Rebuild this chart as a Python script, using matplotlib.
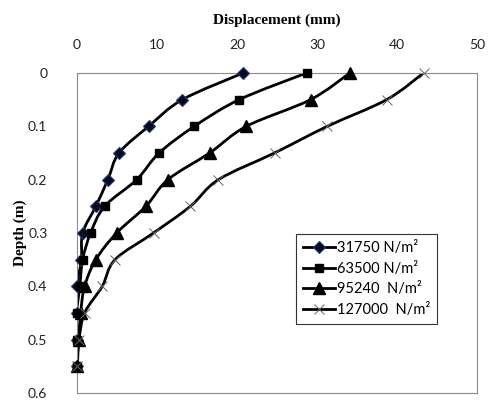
""" Lateral displacement vs depth profiles"""
import matplotlib.pyplot as plt
from matplotlib.path import Path
from matplotlib.patches import PathPatch

# Data
depth = [0, 0.05, 0.1, 0.15, 0.2, 0.25, 0.3, 0.35, 0.4, 0.45, 0.5, 0.55]
disp_31750 = [20.8, 13.2, 9.0, 5.3, 3.9, 2.4, 0.75, 0.6, 0.0, 0.0, 0.0, 0.0]
disp_63500 = [28.7, 20.3, 14.7, 10.3, 7.5, 3.5, 1.75, 0.75, 0.4, 0.0, 0.0, 0.0]
disp_95240 = [34.1, 29.2, 21.2, 16.6, 11.4, 8.65, 5.0, 2.4, 1.0, 0.5, 0.25, 0.1]
disp_127000 = [43.3, 38.7, 31.3, 24.7, 17.7, 14.2, 9.6, 4.8, 3.2, 1.0, 0.3, 0.0]

labels = ["31750 N/m²", "63500 N/m²", "95240  N/m²", "127000  N/m²"]
x_ticks = [0, 10, 20, 30, 40, 50]
y_ticks = [0, 0.1, 0.2, 0.3, 0.4, 0.5, 0.6]


def smooth_path(xs, ys, k=1 / 6):
    # cubic bezier through every point, tangents from neighbours
    verts = [(xs[0], ys[0])]
    codes = [Path.MOVETO]
    n = len(xs)
    for i in range(n - 1):
        x0, y0 = xs[max(i - 1, 0)], ys[max(i - 1, 0)]
        x1, y1 = xs[i], ys[i]
        x2, y2 = xs[i + 1], ys[i + 1]
        x3, y3 = xs[min(i + 2, n - 1)], ys[min(i + 2, n - 1)]
        c1 = (x1 + (x2 - x0) * k, y1 + (y2 - y0) * k)
        c2 = (x2 - (x3 - x1) * k, y2 - (y3 - y1) * k)
        verts += [c1, c2, (x2, y2)]
        codes += [Path.CURVE4] * 3
    return Path(verts, codes)


def main():
    fig = plt.figure(figsize=(4.88, 4.03), dpi=100)
    ax = fig.add_axes([0.157, 0.025, 0.821, 0.794])

    series = [disp_31750, disp_63500, disp_95240, disp_127000]
    styles = [
        dict(marker='D', markersize=6, markerfacecolor='#0a0a1e', markeredgecolor='#1f3b73', markeredgewidth=0.8),
        dict(marker='s', markersize=6, markerfacecolor='black', markeredgecolor='black'),
        dict(marker='^', markersize=8.5, markerfacecolor='black', markeredgecolor='black'),
        dict(marker='x', markersize=7, markeredgecolor='#666666', markeredgewidth=0.7),
    ]
    for xs, lab, st in zip(series, labels, styles):
        ax.add_patch(PathPatch(smooth_path(xs, depth), facecolor='none',
                               edgecolor='black', linewidth=2.0, zorder=2))
        ax.plot(xs, depth, linestyle='none', zorder=3, clip_on=False, **st)
        # legend proxy
        ax.plot([], [], color='black', linewidth=2.0, label=lab, **st)

    ax.set_xlim(0, 50)
    ax.set_ylim(0.6, 0)
    ax.set_xticks(x_ticks)
    ax.set_yticks(y_ticks)
    ax.set_yticklabels(['0', '0.1', '0.2', '0.3', '0.4', '0.5', '0.6'])
    ax.xaxis.tick_top()
    ax.tick_params(length=0, labelsize=10, labelcolor='#222222')
    ax.tick_params(axis='x', pad=16)
    ax.tick_params(axis='y', pad=21)
    for lbl in ax.get_xticklabels() + ax.get_yticklabels():
        lbl.set_fontfamily('Lato')
    for sp in ax.spines.values():
        sp.set_color('#8c8c8c')
        sp.set_linewidth(0.8)

    ax.set_xlabel('Displacement (mm)', fontfamily='Liberation Serif',
                  fontweight='bold', fontsize=11, labelpad=11)
    ax.xaxis.set_label_position('top')
    ax.set_ylabel('Depth (m)', fontfamily='Liberation Serif',
                  fontweight='bold', fontsize=11, labelpad=1)

    leg = ax.legend(loc='upper left', bbox_to_anchor=(0.547, 0.497),
                    borderaxespad=0,
                    prop={'family': 'Lato', 'size': 10.5},
                    frameon=True, fancybox=False, handlelength=2.2,
                    handletextpad=0.1, labelspacing=0.45, borderpad=0.5)
    leg.get_frame().set_edgecolor('black')
    leg.get_frame().set_linewidth(0.8)

    fig.savefig('out.png', dpi=100)


if __name__ == '__main__':
    main()
